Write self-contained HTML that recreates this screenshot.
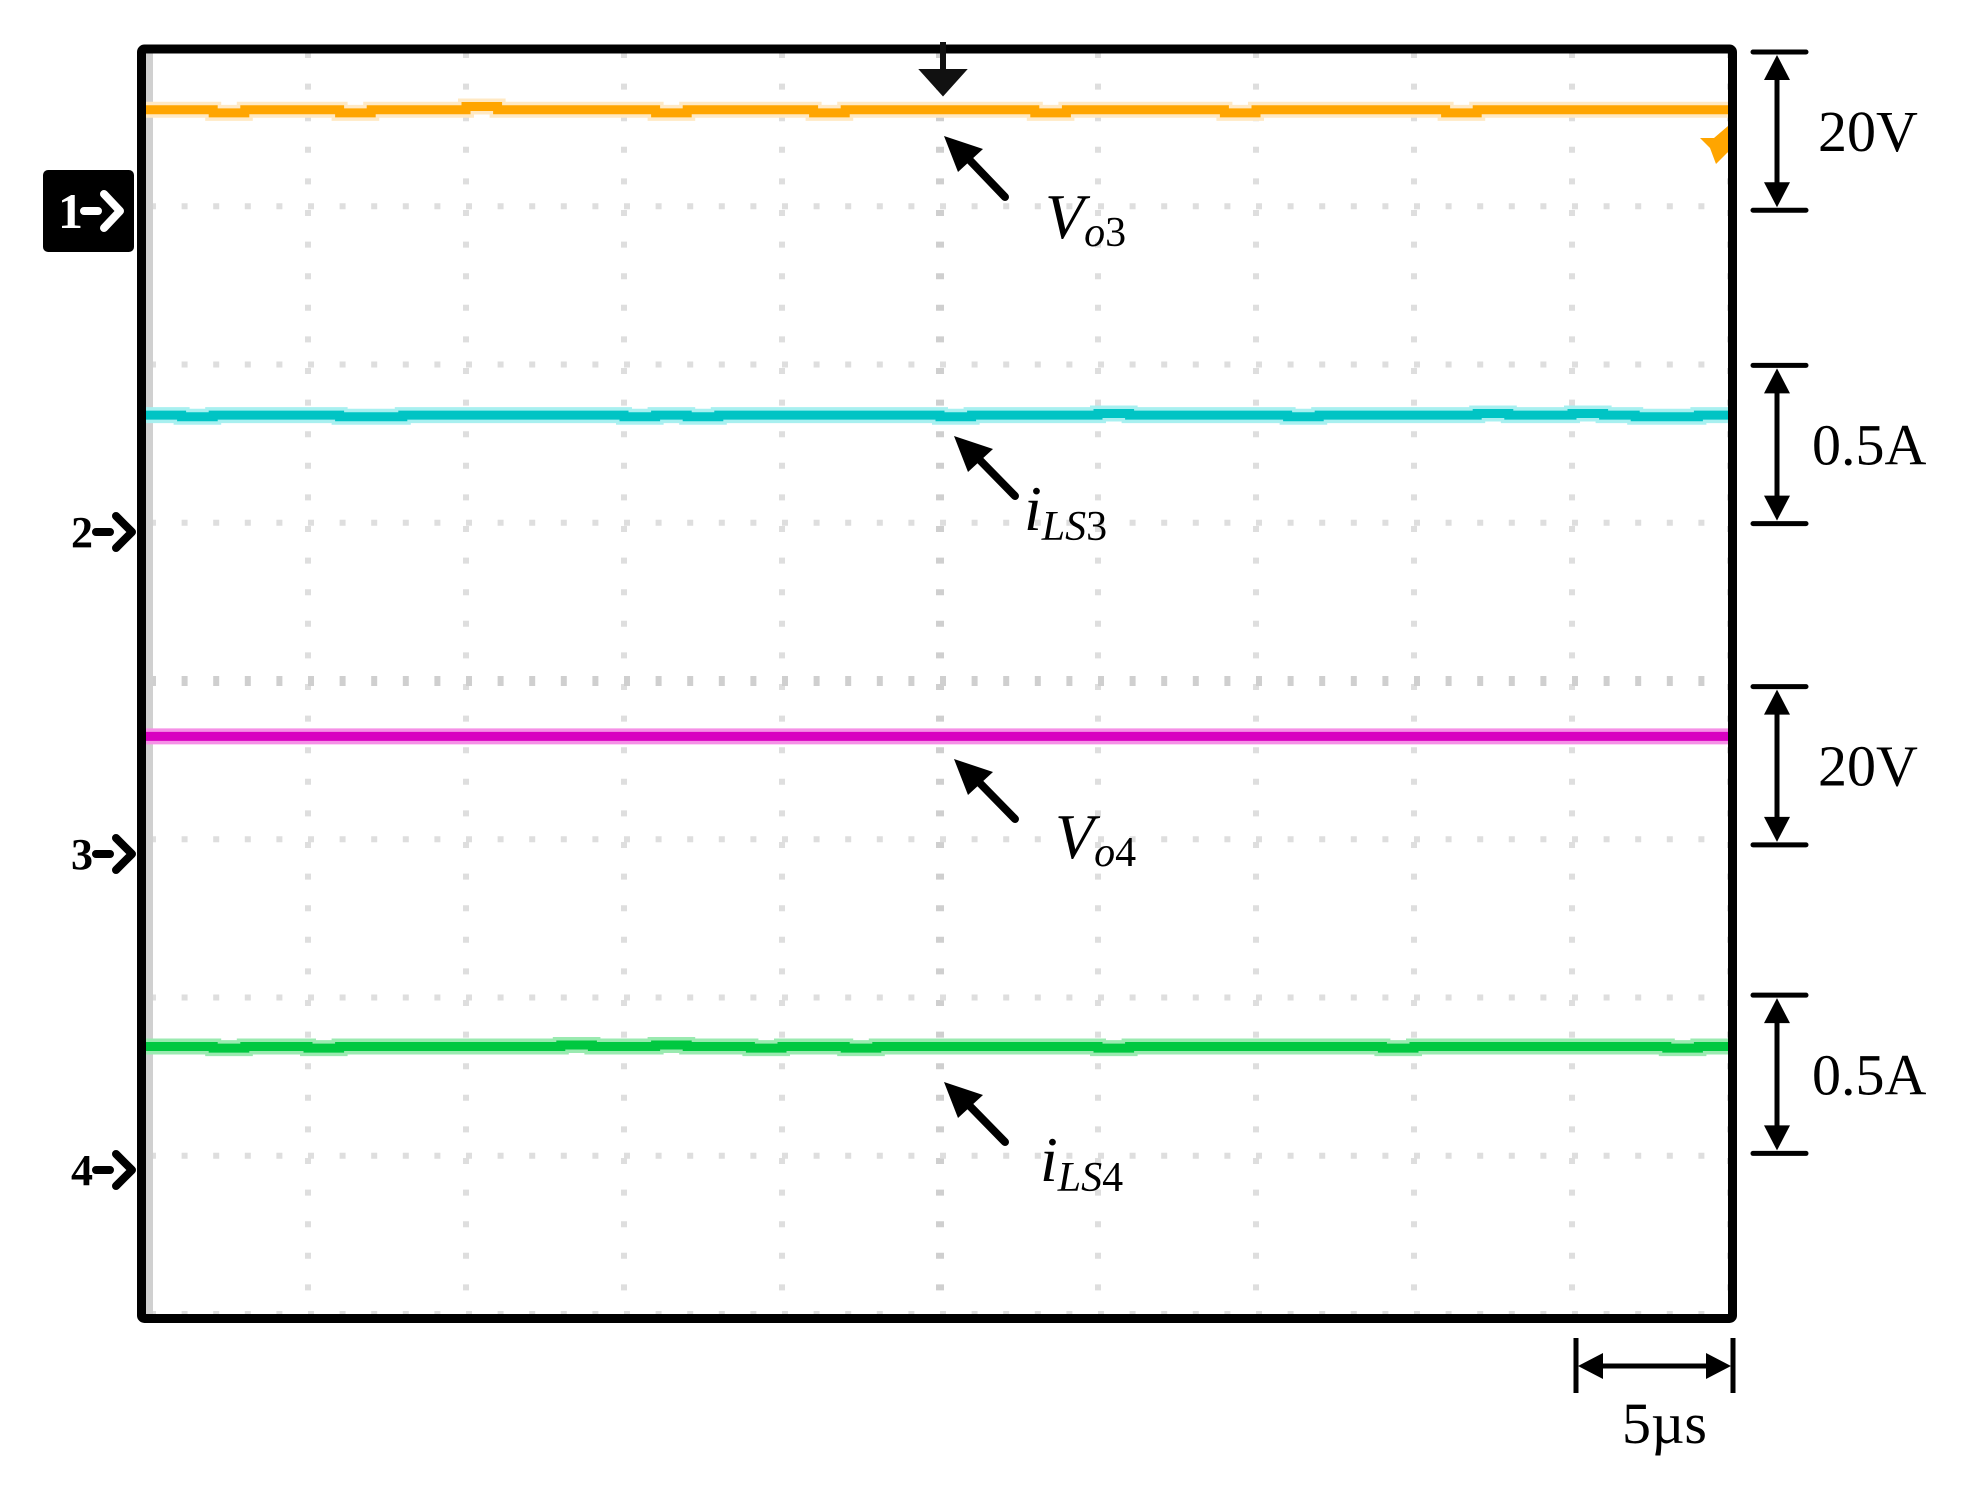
<!DOCTYPE html>
<html><head><meta charset="utf-8"><style>
html,body{margin:0;padding:0;background:#fff;}
svg{display:block;}
text{font-family:"Liberation Serif",serif;}
</style></head><body>
<svg id="chart" width="1968" height="1492" viewBox="0 0 1968 1492" xmlns="http://www.w3.org/2000/svg">
<g id="grid"></g>
<g id="traces"></g>
<rect x="141.5" y="49" width="1591" height="1269.5" fill="none" stroke="#000" stroke-width="9" rx="3"/>
<path d="M943 42 V88 M925 72 H961 L943 92 Z" stroke="#111" stroke-width="6" fill="#111"/>
<polygon points="1728,126 1714,138 1700,138 1710,148 1716,164 1728,152" fill="#ffa500"/>

<g>
<path d="M1005 197 L960 150" stroke="#000" stroke-width="8" stroke-linecap="round"/>
<polygon points="944,136 983,149 958,172" fill="#000"/>
<text x="1045" y="238" font-size="64" font-style="italic">V<tspan font-size="42" dy="8">o</tspan><tspan font-size="42" font-style="normal">3</tspan></text>
</g>
<g>
<path d="M1015 496 L970 450" stroke="#000" stroke-width="8" stroke-linecap="round"/>
<polygon points="954,436 993,449 968,472" fill="#000"/>
<text x="1024" y="530" font-size="64" font-style="italic">i<tspan font-size="42" dy="10">LS</tspan><tspan font-size="42" font-style="normal">3</tspan></text>
</g>
<g>
<path d="M1015 819 L970 773" stroke="#000" stroke-width="8" stroke-linecap="round"/>
<polygon points="954,759 993,772 968,795" fill="#000"/>
<text x="1055" y="858" font-size="64" font-style="italic">V<tspan font-size="42" dy="8">o</tspan><tspan font-size="42" font-style="normal">4</tspan></text>
</g>
<g>
<path d="M1005 1142 L960 1096" stroke="#000" stroke-width="8" stroke-linecap="round"/>
<polygon points="944,1082 983,1095 958,1118" fill="#000"/>
<text x="1040" y="1181" font-size="64" font-style="italic">i<tspan font-size="42" dy="10">LS</tspan><tspan font-size="42" font-style="normal">4</tspan></text>
</g>

<g id="scales"></g>

<g>
<rect x="43" y="170" width="91" height="82" rx="5" fill="#000"/>
<text x="58" y="228" font-size="50" font-weight="bold" fill="#fff">1</text>
<path d="M84 211 H98 M104 194 L120 211 L104 228" stroke="#fff" stroke-width="8" fill="none" stroke-linecap="round" stroke-linejoin="round"/>
</g>
<g>
<text x="71" y="547" font-size="44" font-weight="bold">2</text>
<path d="M96 532 H110 M116 516 L132 532 L116 548" stroke="#000" stroke-width="8" fill="none" stroke-linecap="round" stroke-linejoin="round"/>
</g>
<g>
<text x="71" y="869" font-size="44" font-weight="bold">3</text>
<path d="M96 854 H110 M116 838 L132 854 L116 870" stroke="#000" stroke-width="8" fill="none" stroke-linecap="round" stroke-linejoin="round"/>
</g>
<g>
<text x="71" y="1185" font-size="44" font-weight="bold">4</text>
<path d="M96 1170 H110 M116 1154 L132 1170 L116 1186" stroke="#000" stroke-width="8" fill="none" stroke-linecap="round" stroke-linejoin="round"/>
</g>
</svg>
<script>
// ---- data ----
const xDivs = 10;
const yDivs = 8;
const orangeValues = [3.61,3.61,3.59,3.61,3.61,3.61,3.59,3.61,3.61,3.61,3.63,3.61,3.61,3.61,3.61,3.61,3.59,3.61,3.61,3.61,3.61,3.59,3.61,3.61,3.61,3.61,3.61,3.61,3.59,3.61,3.61,3.61,3.61,3.61,3.59,3.61,3.61,3.61,3.61,3.61,3.61,3.59,3.61,3.61,3.61,3.61,3.61,3.61,3.61,3.61];
const cyanValues = [1.68,1.67,1.68,1.68,1.68,1.68,1.67,1.67,1.68,1.68,1.68,1.68,1.68,1.68,1.68,1.67,1.68,1.67,1.68,1.68,1.68,1.68,1.68,1.68,1.68,1.67,1.68,1.68,1.68,1.68,1.69,1.68,1.68,1.68,1.68,1.68,1.67,1.68,1.68,1.68,1.68,1.68,1.69,1.68,1.68,1.69,1.68,1.67,1.67,1.68];
const magentaValues = [-0.35,-0.35,-0.35,-0.35,-0.35,-0.35,-0.35,-0.35,-0.35,-0.35,-0.35,-0.35,-0.35,-0.35,-0.35,-0.35,-0.35,-0.35,-0.35,-0.35,-0.35,-0.35,-0.35,-0.35,-0.35,-0.35,-0.35,-0.35,-0.35,-0.35,-0.35,-0.35,-0.35,-0.35,-0.35,-0.35,-0.35,-0.35,-0.35,-0.35,-0.35,-0.35,-0.35,-0.35,-0.35,-0.35,-0.35,-0.35,-0.35,-0.35];
const greenValues = [-2.31,-2.31,-2.32,-2.31,-2.31,-2.32,-2.31,-2.31,-2.31,-2.31,-2.31,-2.31,-2.31,-2.30,-2.31,-2.31,-2.30,-2.31,-2.31,-2.32,-2.31,-2.31,-2.32,-2.31,-2.31,-2.31,-2.31,-2.31,-2.31,-2.31,-2.32,-2.31,-2.31,-2.31,-2.31,-2.31,-2.31,-2.31,-2.31,-2.32,-2.31,-2.31,-2.31,-2.31,-2.31,-2.31,-2.31,-2.31,-2.32,-2.31];
const scaleLabels = ["20V","0.5A","20V","0.5A"];
const scaleTops = [4.0, 2.02, -0.01, -1.96];   // in divisions (top of each bar)
const scaleSpan = 1.0;                      // divisions
const timeLabel = "5µs";

// ---- axes ----
const X0 = 150, X1 = 1730, Y0 = 48, Y1 = 1314;
function xScale(d){ return X0 + (d / xDivs) * (X1 - X0); }
function yScale(v){ return Y0 + ((yDivs/2 - v) / yDivs) * (Y1 - Y0); }
const NS = "http://www.w3.org/2000/svg";
function mk(tag, attrs, parent){ const e = document.createElementNS(NS, tag); for (const k in attrs) e.setAttribute(k, attrs[k]); parent.appendChild(e); return e; }

// ---- grid ----
const grid = document.getElementById('grid');
for (let i = 0; i <= xDivs; i++) {
  const x = xScale(i);
  const center = i === xDivs/2;
  const l = mk('line', {x1:x, y1:Y0+4, x2:x, y2:Y1, stroke: center ? '#cfcfcf' : '#dedede', 'stroke-width': center ? 8 : 6, 'stroke-dasharray': '6 25.6'}, grid);
  
  
}
for (let j = 0; j <= yDivs; j++) {
  const y = yScale(yDivs/2 - j);
  const center = j === yDivs/2;
  const l = mk('line', {x1:X0, y1:y, x2:X1, y2:y, stroke: center ? '#cfcfcf' : '#dedede', 'stroke-width': center ? 10 : 6, 'stroke-dasharray': '6 25.6'}, grid);
  
  
}
const edge = mk('line', {x1:149.5, y1:Y0+4, x2:149.5, y2:Y1, stroke:'#d0d0d0', 'stroke-width':7}, grid);



// ---- traces ----
const traces = document.getElementById('traces');
function drawTrace(values, dark, light, name){
  const n = values.length;
  let pts = [];
  for (let i = 0; i < n; i++) {
    const xa = xScale(i * xDivs / n) - (i === 0 ? 4 : 0);
    const xb = xScale((i + 1) * xDivs / n);
    const y = yScale(values[i]);
    pts.push(xa + ',' + y, xb + ',' + y);
  }
  const halo = mk('polyline', {points: pts.join(' '), fill:'none', stroke: light, 'stroke-width': 16}, traces);
  
  
  const line = mk('polyline', {points: pts.join(' '), fill:'none', stroke: dark, 'stroke-width': 9}, traces);
  
  
}
drawTrace(orangeValues, '#ffa500', '#ffe9c4', 'trace-vo3');
drawTrace(cyanValues, '#00c4c4', '#a8f0f0', 'trace-ils3');
drawTrace(magentaValues, '#d800c0', '#f590e6', 'trace-vo4');
drawTrace(greenValues, '#00c840', '#9aeab0', 'trace-ils4');

// ---- scale bars ----
const scales = document.getElementById('scales');
for (let k = 0; k < scaleLabels.length; k++) {
  const yt = yScale(scaleTops[k]) + 4, yb = yScale(scaleTops[k] - scaleSpan) + 4;
  const xc = 1777;
  const g = mk('g', {}, scales);
  
  
  mk('line', {x1:1753, y1:yt, x2:1806, y2:yt, stroke:'#000', 'stroke-width':5, 'stroke-linecap':'round'}, g);
  mk('line', {x1:1753, y1:yb, x2:1806, y2:yb, stroke:'#000', 'stroke-width':5, 'stroke-linecap':'round'}, g);
  mk('line', {x1:xc, y1:yt+20, x2:xc, y2:yb-20, stroke:'#000', 'stroke-width':5}, g);
  mk('polygon', {points:`${xc},${yt+3} ${xc-13},${yt+28} ${xc+13},${yt+28}`, fill:'#000'}, g);
  mk('polygon', {points:`${xc},${yb-3} ${xc-13},${yb-28} ${xc+13},${yb-28}`, fill:'#000'}, g);
  const t = mk('text', {x: scaleLabels[k].length > 3 ? 1812 : 1818, y: (yt + yb)/2 + 20, 'font-size':58}, g);
  t.textContent = scaleLabels[k];
  
  
}
const tg = mk('g', {}, scales);


mk('line', {x1:1576, y1:1338, x2:1576, y2:1393, stroke:'#000', 'stroke-width':5}, tg);
mk('line', {x1:1733, y1:1338, x2:1733, y2:1393, stroke:'#000', 'stroke-width':5}, tg);
mk('line', {x1:1598, y1:1366, x2:1712, y2:1366, stroke:'#000', 'stroke-width':5}, tg);
mk('polygon', {points:'1578,1366 1603,1353 1603,1379', fill:'#000'}, tg);
mk('polygon', {points:'1731,1366 1706,1353 1706,1379', fill:'#000'}, tg);
const tt = mk('text', {x:1622, y:1443, 'font-size':58}, tg);
tt.textContent = timeLabel;


</script>
</body></html>
